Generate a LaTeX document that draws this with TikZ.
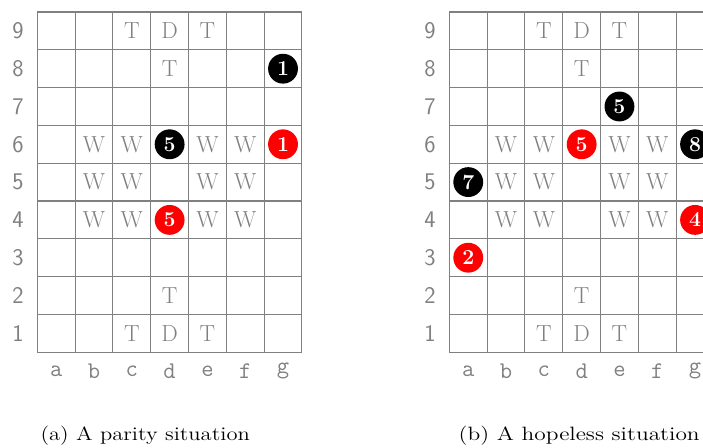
\documentclass[tikz,border=0pt]{standalone}
\usepackage{fontspec}
\begin{document}
\begin{tikzpicture}[
  gridline/.style={draw=gray, line width=0.8pt},
  cellletter/.style={text=gray, inner sep=0pt, font=\fontsize{17.5}{20}\selectfont},
  rowlabel/.style={text=gray, inner sep=0pt, font=\sffamily\fontsize{18}{20}\selectfont},
  collabel/.style={text=gray, inner sep=0pt, font=\ttfamily\fontsize{18}{20}\selectfont},
  blackstone/.style={circle, fill=black, text=white, minimum size=0.79cm, inner sep=0pt, font=\bfseries\fontsize{16}{18}\selectfont},
  redstone/.style={blackstone, fill=red},
  captiontext/.style={anchor=base west, inner sep=0pt, font=\fontsize{14.5}{17}\selectfont}
]
\useasboundingbox (-0.987,-2.508) rectangle (17.61,9.317);

% ---------- board (a) ----------
\begin{scope}
  \draw[gridline] (0,0) grid (7,9);
  \foreach \r in {1,...,9} \node[rowlabel] (La-r\r) at (-0.51,\r-0.5) {\r};
  \foreach \c [count=\i] in {a,b,c,d,e,f,g} \node[collabel] (La-c\c) at (\i-0.5,-0.5) {\c};
  \foreach \x/\y/\t [count=\k] in {3/9/T,4/9/D,5/9/T,4/8/T,
      2/6/W,3/6/W,5/6/W,6/6/W,
      2/5/W,3/5/W,5/5/W,6/5/W,
      2/4/W,3/4/W,5/4/W,6/4/W,
      4/2/T,3/1/T,4/1/D,5/1/T}
    \node[cellletter] (Ta-\k) at (\x-0.5,\y-0.5) {\t};
  \node[blackstone] (Sa-g8) at (6.5,7.5) {1};
  \node[blackstone] (Sa-d6) at (3.5,5.5) {5};
  \node[redstone]   (Sa-g6) at (6.5,5.5) {1};
  \node[redstone]   (Sa-d4) at (3.5,3.5) {5};
\end{scope}

% ---------- board (b) ----------
\begin{scope}[xshift=10.9cm]
  \draw[gridline] (0,0) grid (7,9);
  \foreach \r in {1,...,9} \node[rowlabel] (Lb-r\r) at (-0.51,\r-0.5) {\r};
  \foreach \c [count=\i] in {a,b,c,d,e,f,g} \node[collabel] (Lb-c\c) at (\i-0.5,-0.5) {\c};
  \foreach \x/\y/\t [count=\k] in {3/9/T,4/9/D,5/9/T,4/8/T,
      2/6/W,3/6/W,5/6/W,6/6/W,
      2/5/W,3/5/W,5/5/W,6/5/W,
      2/4/W,3/4/W,5/4/W,6/4/W,
      4/2/T,3/1/T,4/1/D,5/1/T}
    \node[cellletter] (Tb-\k) at (\x-0.5,\y-0.5) {\t};
  \node[blackstone] (Sb-e7) at (4.5,6.5) {5};
  \node[redstone]   (Sb-d6) at (3.5,5.5) {5};
  \node[blackstone] (Sb-g6) at (6.5,5.5) {8};
  \node[blackstone] (Sb-a5) at (0.5,4.5) {7};
  \node[redstone]   (Sb-g4) at (6.5,3.5) {4};
  \node[redstone]   (Sb-a3) at (0.5,2.5) {2};
\end{scope}

% ---------- captions ----------
\node[captiontext] (capa) at (0.08,-2.336) {\scalebox{1.17}[1]{(a) A parity situation}};
\node[captiontext] (capb) at (11.14,-2.336) {\scalebox{1.215}[1]{(b) A hopeless situation}};
\end{tikzpicture}
\end{document}
